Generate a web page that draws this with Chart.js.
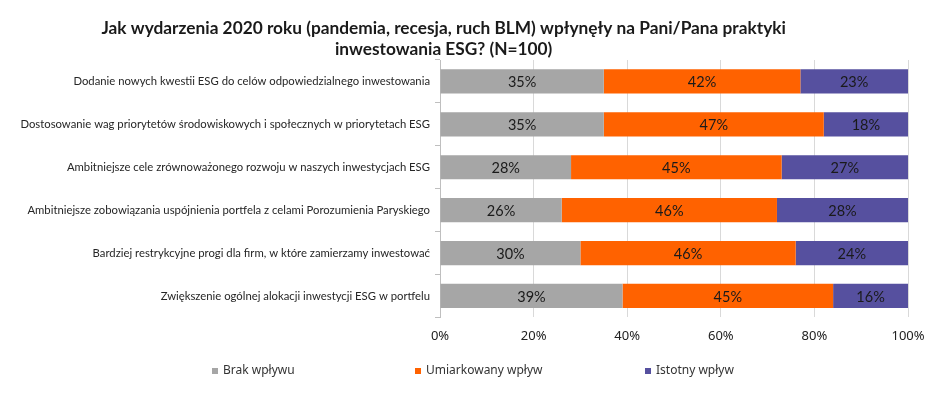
<!DOCTYPE html>
<html>
<head>
<meta charset="utf-8">
<script src="https://cdn.jsdelivr.net/npm/chart.js@4.4.1/dist/chart.umd.min.js"></script>
<style>
    html, body { margin: 0; padding: 0; background: #fff; }
    #wrap { width: 936px; height: 397px; position: relative; }
</style>
</head>
<body>
<div id="wrap"><canvas id="chartEsg"></canvas></div>
<script>
const TITLE_LINES = [
    'Jak wydarzenia 2020 roku (pandemia, recesja, ruch BLM) wpłynęły na Pani/Pana praktyki',
    'inwestowania ESG? (N=100)'
];

const kategorie = [
    'Dodanie nowych kwestii ESG do celów odpowiedzialnego inwestowania',
    'Dostosowanie wag priorytetów środowiskowych i społecznych w priorytetach ESG',
    'Ambitniejsze cele zrównoważonego rozwoju w naszych inwestycjach ESG',
    'Ambitniejsze zobowiązania uspójnienia portfela z celami Porozumienia Paryskiego',
    'Bardziej restrykcyjne progi dla firm, w które zamierzamy inwestować',
    'Zwiększenie ogólnej alokacji inwestycji ESG w portfelu'
];

const brakWplywu = [35, 35, 28, 26, 30, 39];
const umiarkowanyWplyw = [42, 47, 45, 46, 46, 45];
const istotnyWplyw = [23, 18, 27, 28, 24, 16];

const serie = ['Brak wpływu', 'Umiarkowany wpływ', 'Istotny wpływ'];
const kolory = ['#a6a6a6', '#ff6200', '#56509f'];
const xTicks = [0, 20, 40, 60, 80, 100];

// tytul rysowany recznie, zeby srodek byl tam gdzie w oryginale
const tytulPlugin = {
    id: 'tytul',
    afterDraw(chart) {
        const ctx = chart.ctx;
        ctx.save();
        ctx.font = 'bold 17.3px Lato';
        ctx.fillStyle = '#1a1a1a';
        ctx.textAlign = 'center';
        ctx.textBaseline = 'middle';
        const cx = chart.width * 0.474;
        TITLE_LINES.forEach((linia, i) => {
            ctx.fillText(linia, cx, 28 + i * 21);
        });
        ctx.restore();
    }
};

const etykietyPlugin = {
    id: 'etykiety',
    afterDatasetsDraw(chart) {
        const ctx = chart.ctx;
        ctx.save();
        ctx.font = '14.5px Lato';
        ctx.fillStyle = '#1a1a1a';
        ctx.textAlign = 'center';
        ctx.textBaseline = 'middle';
        chart.data.datasets.forEach((ds, di) => {
            const meta = chart.getDatasetMeta(di);
            meta.data.forEach((bar, i) => {
                const cx = (bar.x + bar.base) / 2;
                ctx.fillText(ds.data[i] + '%', cx, bar.y + 1);
            });
        });
        ctx.restore();
    }
};

// legenda: pozycje poczatkow elementow jak w oryginale (ulamek szerokosci)
const legendaStart = [0.2265, 0.4434, 0.6891];

const legendaPlugin = {
    id: 'legenda',
    afterDraw(chart) {
        const ctx = chart.ctx;
        ctx.save();
        ctx.font = '12px "Noto Sans"';
        ctx.textBaseline = 'middle';
        const y = chart.height - 26;
        serie.forEach((nazwa, i) => {
            const x0 = Math.round(chart.width * legendaStart[i]);
            ctx.fillStyle = kolory[i];
            ctx.fillRect(x0, y - 3, 6, 6);
            ctx.fillStyle = '#333';
            ctx.fillText(nazwa, x0 + 11, y);
        });
        ctx.restore();
    }
};

const zbiory = [brakWplywu, umiarkowanyWplyw, istotnyWplyw].map((dane, i) => ({
    label: serie[i],
    data: dane,
    backgroundColor: kolory[i],
    borderWidth: 0,
    barPercentage: 0.565,
    categoryPercentage: 1
}));

new Chart(document.getElementById('chartEsg').getContext('2d'), {
    type: 'bar',
    data: {
        labels: kategorie,
        datasets: zbiory
    },
    options: {
        indexAxis: 'y',
        responsive: true,
        maintainAspectRatio: false,
        animation: false,
        layout: {
            padding: { top: 60, right: 28, bottom: 42, left: 0 }
        },
        plugins: {
            legend: { display: false },
            title: { display: false },
            tooltip: { enabled: false }
        },
        scales: {
            x: {
                stacked: true,
                min: 0,
                max: 100,
                afterBuildTicks(scale) {
                    scale.ticks = xTicks.map(v => ({ value: v }));
                },
                grid: {
                    color: '#d9d9d9',
                    drawTicks: false
                },
                border: { display: false },
                ticks: {
                    padding: 11,
                    color: '#222',
                    font: { family: 'Noto Sans', size: 13 },
                    callback: v => v + '%'
                }
            },
            y: {
                stacked: true,
                afterFit(scale) {
                    scale.width = 440;
                },
                grid: {
                    offset: true,
                    drawOnChartArea: false,
                    drawTicks: true,
                    tickLength: 5,
                    color: '#bfbfbf'
                },
                border: { display: true, color: '#bfbfbf' },
                ticks: {
                    padding: 5,
                    color: '#262626',
                    font: { family: 'Lato', size: 11.3 }
                }
            }
        }
    },
    plugins: [tytulPlugin, etykietyPlugin, legendaPlugin]
});
</script>
</body>
</html>
